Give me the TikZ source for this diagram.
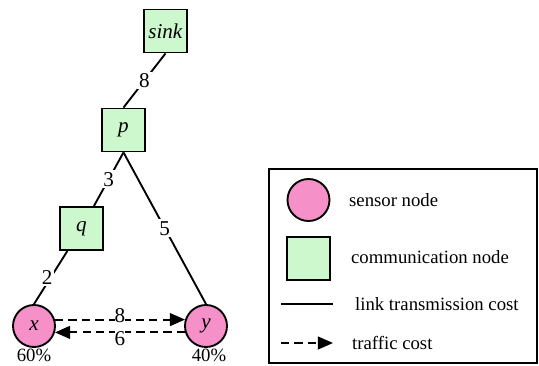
\documentclass[tikz,border=0pt]{standalone}
\usepackage{fontspec}
\setmainfont{Liberation Serif}
\usetikzlibrary{arrows.meta}
\definecolor{sensorpink}{RGB}{245,145,200}
\definecolor{commgreen}{RGB}{205,247,205}
\begin{document}
\begin{tikzpicture}[x=0.03cm,y=-0.03cm,
    font=\fontsize{16pt}{19pt}\selectfont,
    comm/.style={draw,line width=1.6pt,fill=commgreen,minimum size=1.29cm,inner sep=0pt,font=\fontsize{18pt}{21pt}\selectfont},
    sensor/.style={draw,line width=1.6pt,circle,fill=sensorpink,minimum size=1.26cm,inner sep=0pt,font=\fontsize{18pt}{21pt}\selectfont},
    link/.style={line width=1.6pt},
    traffic/.style={line width=1.6pt,dash pattern=on 7pt off 4.5pt,-{Triangle[length=13pt,width=11pt]}},
    cost/.style={fill=white,inner sep=1.5pt,font=\fontsize{18pt}{21pt}\selectfont}]
            \useasboundingbox (0,0) rectangle (539,365);
            \node (sink) at (165.5,31) [comm] {\textit{sink}};
            \node (p) at (123.5,130) [comm] {\textit{p}};
            \node (q) at (81.5,228.5) [comm] {\textit{q}};
            \node (x) at (34,326) [sensor] {\textit{x}};
            \node (y) at (206,326) [sensor] {\textit{y}};
            \node (px) at (34,355) [inner sep=0pt] {60\%};
            \node (py) at (209,355) [inner sep=0pt] {40\%};
            \draw[link] (sink.south) -- node[cost] {8} (p.north);
            \draw[link] (p.south) -- node[cost] {3} (q);
            \draw[link] (p.south) -- node[cost] {5} (y.north);
            \draw[link] (q) -- node[cost,xshift=-3pt] {2} (x.north);
            \draw[traffic] (x.17) -- node[cost,inner sep=0pt,yshift=3pt] {8} (y.163);
            \draw[traffic] (y.-163) -- node[cost,inner sep=0pt,yshift=-5pt] {6} (x.-17);
            \draw[line width=1.2pt] (269,169) rectangle (537,363);
            \node (lsensor) at (308.5,200) [sensor] {};
            \node (lcomm) at (308.5,258.5) [comm] {};
            \coordinate (la) at (281,304);
            \coordinate (lb) at (333,304);
            \coordinate (lc) at (281,343);
            \coordinate (ld) at (333,343);
            \draw[link] (la) -- (lb);
            \draw[traffic] (lc) -- (ld);
            \node (tsensor) at (345,200) [anchor=west] {sensor node};
            \node (tcomm) at (347,257) [anchor=west] {communication node};
            \node (tlink) at (351,304) [anchor=west] {link transmission cost};
            \node (ttraffic) at (348,343) [anchor=west] {traffic cost};
        \end{tikzpicture}
\end{document}
